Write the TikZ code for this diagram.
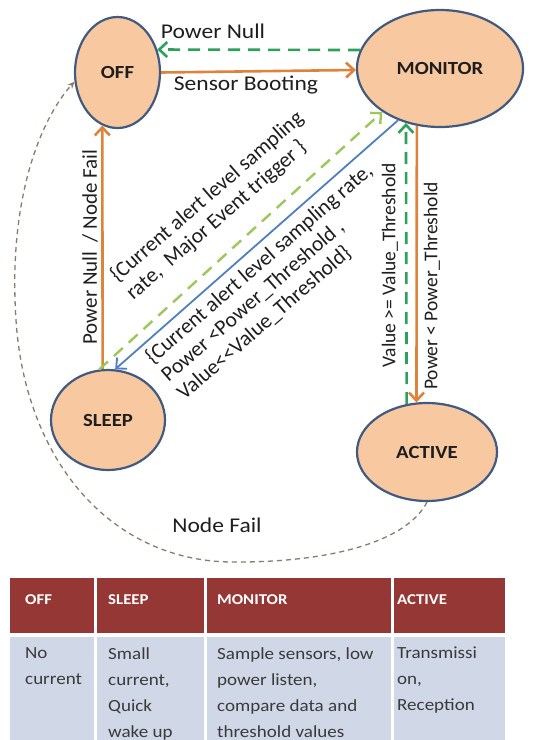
\documentclass[tikz,border=0pt]{standalone}
\usepackage{fontspec}
\setmainfont{Carlito}
\newfontfamily\hfont{Carlito}[FakeStretch=1.12]
\usetikzlibrary{shapes.geometric,arrows.meta}
\definecolor{nodefill}{HTML}{F8C8A0}
\definecolor{nodeborder}{HTML}{405A80}
\definecolor{orangec}{HTML}{E0833A}
\definecolor{greenc}{HTML}{2BA15A}
\definecolor{lgreenc}{HTML}{9CC85A}
\definecolor{bluec}{HTML}{4F7FC0}
\definecolor{failc}{HTML}{8C7B6B}
\definecolor{headc}{HTML}{953735}
\definecolor{bodyc}{HTML}{D0D8E8}
\definecolor{txtc}{HTML}{1E1E1E}
\definecolor{bodytxt}{HTML}{3A3A3A}
\newcommand\setfs[2]{\fontsize{#1}{#2}\selectfont}
\begin{document}
\begin{tikzpicture}[x=1pt,y=-1pt,
  state/.style={ellipse, draw=nodeborder, line width=2.2pt, fill=nodefill, inner sep=0pt,
    text=txtc, font=\hfont\bfseries\setfs{18.5}{22}},
  lbl/.style={inner sep=0pt, text=txtc},
  oarrow/.style={draw=orangec, line width=2.6pt, -{Straight Barb[length=8pt,width=15pt]}},
  garrow/.style={draw=greenc, line width=2.6pt, dash pattern=on 12pt off 8pt, -{Straight Barb[length=8pt,width=15pt]}},
  lgarrow/.style={draw=lgreenc, line width=2.4pt, dash pattern=on 12pt off 8pt, -{Straight Barb[length=8pt,width=15pt]}},
  barrow/.style={draw=bluec, line width=1.8pt, -{Straight Barb[length=8pt,width=15pt]}},
  failarrow/.style={draw=failc, line width=1.3pt, dash pattern=on 5pt off 4pt, -{Stealth[length=7pt,width=6pt]}},
  headtxt/.style={anchor=west, inner sep=0pt, text=white, font=\hfont\bfseries\setfs{15}{18}},
  bodytext/.style={anchor=north west, inner sep=0pt, align=left, text=bodytxt, font=\hfont\setfs{17}{26}}
]
\useasboundingbox (0,0) rectangle (548,740);
\fill[white] (0,0) rectangle (548,740);

% states
\node[state, minimum width=85pt, minimum height=111pt] (off) at (117.5,72.5) {OFF};
\node[state, minimum width=166pt, minimum height=117pt] (monitor) at (440,68.5) {MONITOR};
\node[state, minimum width=114pt, minimum height=100pt] (sleep) at (108,420) {SLEEP};
\node[state, minimum width=140pt, minimum height=98pt] (active) at (427,452) {ACTIVE};

% connectors
\draw[garrow] (monitor.167) -- (off.30);
\draw[oarrow] (off.0) -- (monitor.181);
\draw[oarrow] (sleep.96) -- (off.254);
\draw[lgarrow] (sleep.100) -- (monitor.217);
\draw[barrow] (monitor.231) -- (sleep.82);
\draw[garrow] (active.113) -- (monitor.238);
\draw[oarrow] (monitor.248) -- (active.102);
\draw[failarrow] (active.south) .. controls (405,545) and (320,563) .. (230,562)
  .. controls (110,560) and (25,460) .. (16,320)
  .. controls (8,200) and (40,120) .. (off.192);

% labels
\node[lbl, font=\hfont\setfs{21}{24}] (lpn) at (213,31) {Power Null};
\node[lbl, font=\hfont\setfs{21}{24}] (lsb) at (246,85) {Sensor Booting};
\node[lbl, font=\hfont\setfs{21}{24}] (lnf) at (217,525) {Node Fail};
\node[lbl, rotate=90, font=\setfs{21}{24}] (lpnf) at (90,247) {Power Null\ \ / Node Fail};
\node[lbl, rotate=90, font=\setfs{19.5}{22}] (lvt) at (390,265) {Value >= Value\_Threshold};
\node[lbl, rotate=90, font=\setfs{19.5}{22}] (lpt) at (432,286) {Power < Power\_Threshold};
\node[lbl, rotate=41, align=left, font=\setfs{21.5}{24}] (ld1) at (215,206)
  {\{Current alert level sampling\\rate,\ \ Major Event trigger \}};
\node[lbl, rotate=41, align=left, font=\setfs{21.5}{24}] (ld2) at (275,282)
  {\{Current alert level sampling rate,\\Power <Power\_Threshold ,\\Value<{}<Value\_Threshold\}};

% table
\fill[headc] (10,578) rectangle (505,633);
\fill[bodyc] (10,636.5) rectangle (505,740);
\foreach \cx in {95,205,392} {\fill[white] (\cx-1.5,578) rectangle (\cx+1.5,740);}
\node[headtxt] (h1) at (25,600) {OFF};
\node[headtxt] (h2) at (108,600) {SLEEP};
\node[headtxt] (h3) at (217,600) {MONITOR};
\node[headtxt] (h4) at (397,600) {ACTIVE};
\node[bodytext] (b1) at (25,647) {No\\current};
\node[bodytext] (b2) at (108,647) {Small\\current,\\Quick\\wake up};
\node[bodytext] (b3) at (217,647) {Sample sensors, low\\power listen,\\compare data and\\threshold values};
\node[bodytext] (b4) at (397,647) {Transmissi\\on,\\Reception};
\end{tikzpicture}
\end{document}
